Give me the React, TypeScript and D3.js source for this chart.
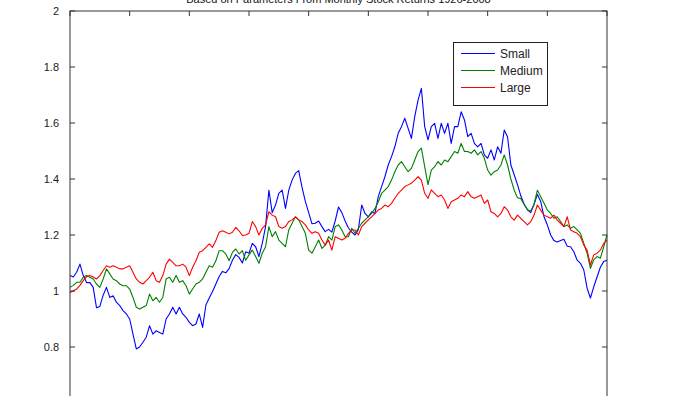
import * as d3 from "d3";

// simulated wealth paths at evenly spaced points
const small = [
  1.055, 1.05, 1.067, 1.096, 1.055, 1.03, 1.03, 1.013, 0.94, 0.945,
  0.985, 1.013, 0.977, 0.983, 0.96, 0.948, 0.93, 0.918, 0.9, 0.846,
  0.793, 0.8, 0.817, 0.835, 0.876, 0.846, 0.858, 0.852, 0.846, 0.9,
  0.918, 0.942, 0.918, 0.942, 0.918, 0.906, 0.888, 0.876, 0.882, 0.918,
  0.87, 0.95, 0.975, 0.998, 1.025, 1.052, 1.07, 1.065, 1.08, 1.11,
  1.13, 1.12, 1.1,
  1.14, 1.135, 1.17, 1.158, 1.123, 1.17, 1.23, 1.36, 1.28, 1.307,
  1.349, 1.36, 1.295, 1.36, 1.396, 1.42, 1.43, 1.37, 1.32, 1.28,
  1.24, 1.242, 1.25, 1.23, 1.212, 1.22, 1.21, 1.25, 1.3, 1.28,
  1.25, 1.225, 1.21, 1.2, 1.22, 1.307, 1.277, 1.265, 1.283, 1.277,
  1.337, 1.373, 1.408, 1.45, 1.48, 1.515, 1.563, 1.587, 1.617, 1.581,
  1.545, 1.623, 1.682, 1.724,
  1.587, 1.54, 1.587, 1.599, 1.545, 1.599, 1.563, 1.599, 1.527, 1.587,
  1.587, 1.64, 1.611, 1.551, 1.563, 1.527, 1.515, 1.527, 1.486, 1.474,
  1.504, 1.468, 1.515, 1.492, 1.575, 1.55, 1.45, 1.415, 1.38, 1.34,
  1.31, 1.29, 1.28, 1.31, 1.345, 1.32, 1.265, 1.236, 1.2, 1.18,
  1.175, 1.18, 1.185, 1.16, 1.158, 1.14, 1.11, 1.099, 1.075, 1.01,
  0.975, 1.015, 1.05, 1.085, 1.105, 1.11,
];

const medium = [
  1.013, 1.02, 1.031, 1.031, 1.049, 1.055, 1.049, 1.043, 1.025, 1.013,
  1.043, 1.079, 1.061, 1.043, 1.037, 1.025, 1.019, 1.019, 1.007, 0.977,
  0.942, 0.936, 0.942, 0.948, 0.989, 0.965, 0.977, 0.96, 0.977, 1.043,
  1.049, 1.031, 1.055, 1.031, 1.037, 1.019, 0.989, 1.007, 1.025, 1.031,
  1.043, 1.067, 1.09, 1.085, 1.108, 1.144, 1.144, 1.132, 1.108, 1.138,
  1.15, 1.132, 1.144,
  1.11, 1.129, 1.146, 1.123, 1.099, 1.135, 1.158, 1.23, 1.194, 1.212,
  1.182, 1.17, 1.158, 1.218, 1.242, 1.265, 1.254, 1.23, 1.206, 1.146,
  1.135, 1.158, 1.182, 1.152, 1.164, 1.194, 1.182, 1.23, 1.236, 1.218,
  1.194, 1.194, 1.224, 1.206, 1.224, 1.242, 1.254, 1.265, 1.277, 1.295,
  1.319, 1.349, 1.36, 1.373, 1.396, 1.426, 1.45, 1.462, 1.444, 1.426,
  1.438, 1.468, 1.498, 1.51,
  1.444, 1.38, 1.432, 1.444, 1.462, 1.45, 1.468, 1.462, 1.48, 1.498,
  1.492, 1.527, 1.498, 1.498, 1.492, 1.504, 1.486, 1.498, 1.474, 1.432,
  1.414, 1.426, 1.432, 1.45, 1.486, 1.45, 1.4, 1.36, 1.333, 1.33,
  1.31, 1.29, 1.286, 1.31, 1.36, 1.337, 1.313, 1.289, 1.277, 1.26,
  1.265, 1.248, 1.23, 1.236, 1.224, 1.23, 1.218, 1.206, 1.17, 1.135,
  1.081, 1.111, 1.123, 1.117, 1.158, 1.2,
];

const large = [
  0.995, 1.0, 1.007, 1.02, 1.037, 1.051, 1.055, 1.05, 1.043, 1.055,
  1.073, 1.09, 1.085, 1.09, 1.085, 1.079, 1.079, 1.085, 1.09, 1.067,
  1.043, 1.031, 1.025, 1.037, 1.049, 1.067, 1.037, 1.031, 1.055, 1.096,
  1.114, 1.102, 1.09, 1.09, 1.096, 1.085, 1.055, 1.085, 1.108, 1.138,
  1.144, 1.156, 1.168, 1.156, 1.18, 1.21, 1.215, 1.21, 1.204, 1.21,
  1.227, 1.215, 1.198,
  1.2, 1.206, 1.248, 1.23, 1.2, 1.224, 1.236, 1.283, 1.271, 1.265,
  1.23, 1.224, 1.23, 1.248, 1.254, 1.265, 1.254, 1.248, 1.236, 1.218,
  1.206, 1.212, 1.206, 1.182, 1.164, 1.182, 1.146, 1.194, 1.188, 1.182,
  1.188, 1.206, 1.218, 1.218, 1.2, 1.23, 1.242, 1.254, 1.265, 1.277,
  1.289, 1.295, 1.307, 1.301, 1.313, 1.331, 1.349, 1.36, 1.373, 1.379,
  1.385, 1.396, 1.408, 1.396,
  1.349, 1.331, 1.361, 1.349, 1.337, 1.343, 1.325, 1.295, 1.319, 1.325,
  1.331, 1.343, 1.337, 1.355, 1.337, 1.331, 1.337, 1.343, 1.313, 1.325,
  1.283, 1.277, 1.265, 1.277, 1.301, 1.289, 1.265, 1.253, 1.271, 1.259,
  1.248, 1.236, 1.248, 1.271, 1.307, 1.289, 1.271, 1.265, 1.26, 1.271,
  1.253, 1.242, 1.23, 1.265, 1.218, 1.212, 1.206, 1.194, 1.164, 1.146,
  1.093, 1.129, 1.135, 1.146, 1.17, 1.182,
];

const seriesNames = ["Small", "Medium", "Large"];
const seriesColors = ["#0000ff", "#008000", "#ff0000"];
const yTicks = [0.8, 1, 1.2, 1.4, 1.6, 1.8, 2];
const xTicks = [0, 100, 200, 300, 400, 500, 600, 700, 800, 900];
const title = "Based on Parameters From Monthly Stock Returns 1926-2008";

const width = 690;
const height = 396;
const margin = { top: 11, right: 83, left: 70 };
const plotBottom = 403; // the lower axis sits just below the visible page

export default function App() {
  const series = [small, medium, large];
  const n = small.length;

  const x = d3.scaleLinear().domain([0, 900]).range([margin.left, width - margin.right]);
  const y = d3.scaleLinear().domain([0.6, 2]).range([plotBottom, margin.top]);
  const monthAt = (i: number) => (i * 900) / (n - 1);

  const line = d3
    .line<number>()
    .x((_, i) => x(monthAt(i)))
    .y((d) => y(d));

  const x0 = x(0);
  const x1 = x(900);
  const yTop = y(2);
  const font = "'Liberation Sans', Arial, sans-serif";

  return (
    <div style={{ position: "absolute", left: 0, top: 0 }}>
      <svg width={width} height={height} style={{ display: "block", background: "#fff" }}>
        <text x={(x0 + x1) / 2} y={2.5} textAnchor="middle" fontSize={11} fontFamily={font} fill="#111">
          {title}
        </text>

        <g fill="none" strokeLinejoin="round" strokeWidth={1.1}>
          {series.map((s, k) => (
            <path key={seriesNames[k]} d={line(s) ?? ""} stroke={seriesColors[k]} />
          ))}
        </g>

        {/* axes box with inward ticks, MATLAB style */}
        <rect x={x0} y={yTop} width={x1 - x0} height={plotBottom - yTop} fill="none" stroke="#333" strokeWidth={1} />
        <g stroke="#333" strokeWidth={1}>
          {yTicks.map((t) => (
            <g key={t}>
              <line x1={x0} x2={x0 + 5} y1={y(t)} y2={y(t)} />
              <line x1={x1} x2={x1 - 5} y1={y(t)} y2={y(t)} />
            </g>
          ))}
          {xTicks.map((t) => (
            <line key={t} x1={x(t)} x2={x(t)} y1={yTop} y2={yTop + 5} />
          ))}
        </g>
        <g fontSize={11} fontFamily={font} fill="#222" textAnchor="end">
          {yTicks.map((t) => (
            <text key={t} x={x0 - 11} y={y(t)} dy="0.35em">
              {d3.format("~g")(t)}
            </text>
          ))}
        </g>

        {/* legend */}
        <g fontFamily={font} fontSize={12}>
          <rect x={453.5} y={42.5} width={94} height={63} fill="#fff" stroke="#222" strokeWidth={1} />
          {seriesNames.map((name, k) => (
            <g key={name} transform={`translate(0, ${53.5 + k * 17})`}>
              <line x1={461} x2={495} y1={0} y2={0} stroke={seriesColors[k]} strokeWidth={1.1} />
              <text x={500} y={0} dy="0.35em" fill="#222">
                {name}
              </text>
            </g>
          ))}
        </g>
      </svg>
    </div>
  );
}
